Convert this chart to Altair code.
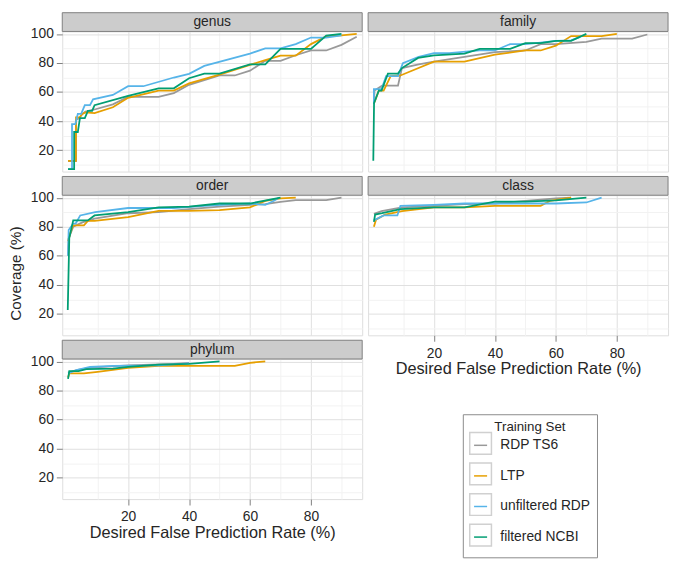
import altair as alt
import pandas as pd

FONT = "Liberation Sans"
ranks = ["genus", "family", "order", "class", "phylum"]
sets = ["RDP TS6", "LTP", "unfiltered RDP", "filtered NCBI"]
colors = ["#999999", "#E69F00", "#56B4E9", "#009E73"]

# ---- genus ----
genus_ts6_x = [0.3, 2.9, 2.9, 4, 5, 6, 9, 15, 20, 30, 35, 40, 50, 55, 60, 65, 70, 75, 80, 85, 90, 95]
genus_ts6_y = [12.5, 12.5, 41, 42, 45, 46.5, 48, 51.5, 56.7, 56.7, 59.3, 65, 71.4, 71.4, 74.7, 81.5, 81.5, 85.3, 88.6, 88.6, 92.5, 98]
genus_ltp_x = [0.3, 2.9, 2.9, 4, 5, 6, 9, 15, 20, 30, 35, 40, 50, 60, 65, 70, 75, 80, 85, 90, 95]
genus_ltp_y = [12.7, 12.7, 42.5, 42.5, 45, 46, 45.5, 49.5, 56, 61, 61, 66, 72, 78.7, 82, 85, 85, 93, 98.3, 99, 100]
genus_urdp_x = [0.3, 1.6, 1.6, 2.7, 3.5, 4.6, 5.8, 7.5, 8.5, 15, 20, 25, 35, 40, 45, 60, 65, 70, 75, 80, 85, 90]
genus_urdp_y = [7, 7, 38, 38, 45, 45, 51, 51, 55, 58, 64, 64, 70, 72.5, 78, 86.5, 90, 90, 93, 97.5, 97.5, 99]
genus_ncbi_x = [0.3, 2.3, 2.3, 3.5, 4.2, 5.8, 6.8, 8.2, 9, 20, 30, 35, 40, 45, 50, 60, 65, 70, 80, 85, 90]
genus_ncbi_y = [7, 7, 32.5, 32.5, 42, 42, 47, 47, 51, 57.4, 62.6, 62.6, 69.5, 72.7, 72.7, 79, 79, 89.7, 89.7, 98.9, 100]

# ---- family ----
family_ts6_x = [0.3, 0.5, 3, 8.2, 9.5, 15, 20, 30, 40, 50, 55, 60, 70, 75, 85, 90]
family_ts6_y = [52, 61, 64.4, 64.4, 76.5, 79, 81, 84.2, 87.5, 88.6, 93, 93, 94.5, 96.7, 96.7, 99.6]
family_ltp_x = [0.5, 1.9, 3.5, 5.8, 9, 20, 30, 40, 50, 55, 60, 65, 75, 80]
family_ltp_y = [53, 61, 61, 71, 71.4, 80.9, 80.9, 85.7, 88.6, 88.6, 91.9, 98.5, 98.5, 100]
family_urdp_x = [0.3, 0.3, 2.8, 4.3, 8.2, 9.8, 15, 20, 25, 35, 40, 45, 50, 55, 60, 65, 68]
family_urdp_y = [52, 62, 62, 71, 71, 79.8, 84.2, 86.8, 86.8, 88.6, 88.6, 93, 93, 94, 95.2, 95.6, 98]
family_ncbi_x = [0.1, 0.35, 1.9, 2.8, 4.9, 8.2, 9.5, 14.8, 20, 30, 35, 45, 50, 55, 60, 65, 70]
family_ncbi_y = [12.7, 52.3, 61, 61, 72.7, 72.7, 76.5, 83.5, 85.3, 86.4, 89.7, 89.7, 93.6, 93.6, 95.2, 95.2, 100]

# ---- order ----
order_ts6_x = [0.3, 0.5, 2, 5, 9, 20, 30, 40, 50, 60, 65, 70, 75, 85, 90]
order_ts6_y = [60, 72, 80, 83, 85.6, 89.3, 90, 92.2, 93.8, 95.1, 95.5, 97.1, 98.4, 98.4, 100]
order_ltp_x = [0.3, 1, 2, 5.5, 6.8, 9, 20, 30, 40, 50, 60, 65, 70, 75]
order_ltp_y = [70, 75.5, 81, 81, 84, 84, 86.7, 91, 91, 91.5, 93.3, 97.8, 99.5, 100]
order_urdp_x = [0.3, 0.5, 2, 2.8, 4.3, 9.2, 20, 35, 45, 55, 60, 65, 68, 69.5]
order_urdp_y = [60, 77.8, 82.2, 82.2, 87.8, 90, 92.9, 92.9, 94.4, 95.6, 96, 95, 98, 100]
order_ncbi_x = [0.2, 0.7, 2, 6.8, 9, 20, 30, 40, 50, 60, 70]
order_ncbi_y = [22.7, 72.2, 84.4, 84.4, 87.8, 90, 93.3, 93.8, 96, 96, 100]

# ---- class ----
class_ts6_x = [0.3, 2.8, 9.5, 20, 30, 40, 50, 60, 65]
class_ts6_y = [88.9, 90.7, 93.3, 94.4, 95.5, 96, 97.8, 99.6, 100]
class_ltp_x = [0.3, 1, 4, 9.5, 20, 30, 40, 55, 58, 60, 65]
class_ltp_y = [80, 84.9, 88.4, 90.7, 93.3, 93.3, 94.4, 94.4, 97.8, 98.5, 100]
class_urdp_x = [0.3, 3.5, 8, 9, 20, 30, 45, 60, 70, 75]
class_urdp_y = [84.4, 87.8, 87.8, 94.4, 95.1, 96, 96, 96, 96.7, 100]
class_ncbi_x = [0.3, 0.7, 3, 9, 20, 30, 40, 50, 60, 70]
class_ncbi_y = [83.3, 88.4, 89.3, 92.2, 93.3, 93.3, 97.3, 97.3, 98.2, 100]

# ---- phylum ----
phylum_ts6_x = [0.3, 3.5, 8, 20, 35, 40]
phylum_ts6_y = [92.4, 94.3, 95.8, 97.3, 98.4, 99]
phylum_ltp_x = [0.3, 0.7, 5.5, 10, 20, 30, 55, 60, 65]
phylum_ltp_y = [88.9, 91.8, 91.8, 92.9, 95.6, 96.9, 96.9, 99.1, 100]
phylum_urdp_x = [0.3, 3, 7.5, 15, 30, 40]
phylum_urdp_y = [91.8, 94, 96.2, 96.9, 97.3, 98.7]
phylum_ncbi_x = [0.3, 0.7, 3.7, 6.3, 15, 20, 30, 40, 50]
phylum_ncbi_y = [88, 93.3, 93.3, 94.7, 95.1, 96.2, 97.8, 98.4, 100]

series = {
    "genus": [(genus_ts6_x, genus_ts6_y), (genus_ltp_x, genus_ltp_y), (genus_urdp_x, genus_urdp_y), (genus_ncbi_x, genus_ncbi_y)],
    "family": [(family_ts6_x, family_ts6_y), (family_ltp_x, family_ltp_y), (family_urdp_x, family_urdp_y), (family_ncbi_x, family_ncbi_y)],
    "order": [(order_ts6_x, order_ts6_y), (order_ltp_x, order_ltp_y), (order_urdp_x, order_urdp_y), (order_ncbi_x, order_ncbi_y)],
    "class": [(class_ts6_x, class_ts6_y), (class_ltp_x, class_ltp_y), (class_urdp_x, class_urdp_y), (class_ncbi_x, class_ncbi_y)],
    "phylum": [(phylum_ts6_x, phylum_ts6_y), (phylum_ltp_x, phylum_ltp_y), (phylum_urdp_x, phylum_urdp_y), (phylum_ncbi_x, phylum_ncbi_y)],
}

x_grid = [10, 20, 30, 40, 50, 60, 70, 80, 90]
y_grid = [10, 20, 30, 40, 50, 60, 70, 80, 90, 100]

W, H, STRIP, GAP = 304, 142, 19, 5
MAJOR = "#e0e0e0"
MINOR = "#f2f2f2"
BORDER = "#7f7f7f"
TXT = "#262626"
is_major = "datum.value % 20 == 0"
LX, LY = 406, 388
TITLE_H = 11.5  # vertical space taken by the legend title

legend_common = dict(
    orient="none", legendX=LX,
    direction="vertical", symbolSize=484, symbolStrokeWidth=1.5,
    labelFontSize=14, labelFont=FONT, labelOffset=8,
    padding=6, rowPadding=3,
)
# visible legend: coloured stroke keys (invisible moves give them the same extent as the boxes)
legend_lines = alt.Legend(
    title="Training Set", legendY=LY, titleAnchor="middle", titleFontSize=13.5,
    titleFontWeight="normal", titleFont=FONT, titlePadding=0,
    symbolType="M-1,-1M1,1M-0.6,0H0.6",
    titleColor=TXT, labelColor=TXT,
    strokeColor="#8a8a8a", fillColor="white", **legend_common,
)
# light grey key boxes, drawn without any text
legend_keys = alt.Legend(
    title=None, legendY=LY + TITLE_H, labelExpr="''",
    symbolType="M-1,-1H1V1H-1Z", symbolStrokeColor="#d0d0d0",
    symbolFillColor="transparent", symbolOpacity=1, **legend_common,
)
key_names = [s + " " for s in sets]


def panel(rank, show_x, show_y, y_title=None, keys=False):
    rows = []
    for s, (xs, ys) in zip(sets, series[rank]):
        for i, (a, b) in enumerate(zip(xs, ys)):
            rows.append({"set": s, "x": a, "y": b, "i": i})
    df = pd.DataFrame(rows)

    xaxis = alt.Axis(
        values=x_grid, labelExpr="datum.value % 20 == 0 ? datum.label : ''",
        grid=True, gridColor={"condition": {"test": is_major, "value": MAJOR}, "value": MINOR},
        gridWidth=1, domain=False, labels=show_x, ticks=show_x,
        tickColor={"condition": {"test": is_major, "value": BORDER}, "value": "transparent"},
        tickSize=6, labelPadding=5, labelFontSize=14, labelColor=TXT, labelFont=FONT,
        title="Desired False Prediction Rate (%)" if show_x else None,
        titleFontSize=16.5, titleFontWeight="normal", titleColor=TXT, titleFont=FONT, titlePadding=1,
    )
    ykw = {}
    if y_title:
        ykw["titleY"] = H / 2 + 8
    yaxis = alt.Axis(
        values=y_grid, labelExpr="datum.value % 20 == 0 ? datum.label : ''",
        grid=True, gridColor={"condition": {"test": is_major, "value": MAJOR}, "value": MINOR},
        gridWidth=1, domain=False, labels=show_y, ticks=show_y,
        tickColor={"condition": {"test": is_major, "value": BORDER}, "value": "transparent"},
        tickSize=6, labelPadding=3, labelFontSize=14, labelColor=TXT, labelFont=FONT,
        title=y_title, titleFontSize=15.5, titleFontWeight="normal", titleColor=TXT,
        titleFont=FONT, titlePadding=7, **ykw,
    )
    xs_scale = alt.Scale(domain=[-1.6, 96.8], nice=False, zero=False)
    ys_scale = alt.Scale(domain=[5.3, 101.7], nice=False, zero=False)
    lines = alt.Chart(df).mark_line(strokeWidth=1.8).encode(
        x=alt.X("x:Q", scale=xs_scale, axis=xaxis),
        y=alt.Y("y:Q", scale=ys_scale, axis=yaxis),
        color=alt.Color("set:N", scale=alt.Scale(domain=sets, range=colors), legend=legend_lines),
        order=alt.Order("i:Q"),
    )
    sdf = pd.DataFrame({"rank": [rank]})
    strip = alt.Chart(sdf).mark_rect(fill="#cccccc", stroke=BORDER, strokeWidth=1).encode(
        x=alt.value(0), x2=alt.value(W), y=alt.value(-STRIP), y2=alt.value(0)
    )
    label = alt.Chart(sdf).mark_text(fontSize=14, font=FONT, color=TXT).encode(
        text="rank:N", x=alt.value(W / 2), y=alt.value(-STRIP / 2)
    )
    layers = [lines, strip, label]
    if keys:
        kdf = pd.DataFrame({"key": key_names})
        keypts = alt.Chart(kdf).mark_point(
            filled=False, color="#d0d0d0", strokeOpacity=0, fillOpacity=0
        ).encode(
            x=alt.value(10), y=alt.value(10),
            shape=alt.Shape("key:N", scale=alt.Scale(domain=key_names, range=["square"] * 4), legend=legend_keys),
        )
        layers.append(keypts)
    return alt.layer(*layers).properties(width=W, height=H)


charts = [
    panel("genus", False, True),
    panel("family", False, False),
    panel("order", False, True, y_title="Coverage (%)"),
    panel("class", True, False),
    panel("phylum", True, True, keys=True),
]

chart = alt.concat(
    *charts, columns=2, bounds="flush", spacing={"row": STRIP + GAP, "column": 6}
).properties(padding={"left": 0, "top": 0, "right": 2, "bottom": 0}).configure_view(
    stroke=BORDER, strokeWidth=1
).configure(font=FONT)

chart.save("out.html", embed_options={"renderer": "svg", "actions": False})
